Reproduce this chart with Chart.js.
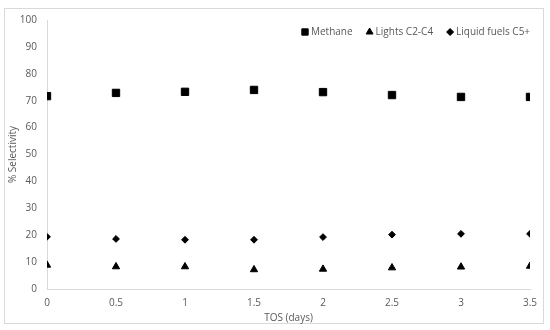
<!DOCTYPE html>
<html lang="en">
<head>
<meta charset="UTF-8">
<title>Selectivity vs TOS</title>
<script src="https://cdn.jsdelivr.net/npm/chart.js"></script>
<style>
  body { margin: 0; background: #fff; }
  #wrap { position: relative; width: 550px; height: 330px; }
</style>
</head>
<body>
<div id="wrap"><canvas id="chart1" width="550" height="330"></canvas></div>
<script>
// data
const tosDays = [0, 0.5, 1, 1.5, 2, 2.5, 3, 3.5];
const methane = [71.7, 72.9, 73.3, 74.0, 73.2, 72.1, 71.4, 71.4];
const lights = [8.9, 8.3, 8.3, 7.2, 7.4, 7.9, 8.2, 8.5];
const liquidFuels = [19.4, 18.6, 18.3, 18.3, 19.3, 20.2, 20.5, 20.5];
const seriesNames = ['Methane', 'Lights C2-C4', 'Liquid fuels C5+'];

function pts(vals) {
    return tosDays.map((x, i) => ({ x: x, y: vals[i] }));
}

const gray = '#595959';
const font = 'Open Sans';

// light grey frame round the whole chart
const frame = {
    id: 'frame',
    beforeDraw(chart) {
        const c = chart.ctx;
        c.save();
        c.fillStyle = '#fff';
        c.fillRect(0, 0, chart.width, chart.height);
        c.strokeStyle = '#d9d9d9';
        c.lineWidth = 1;
        c.strokeRect(4.5, 8.5, 539, 315);
        c.restore();
    }
};

// legend in the top right corner, inside the plot
const legendTopRight = {
    id: 'legendTopRight',
    afterDraw(chart) {
        const c = chart.ctx;
        const y = 32;
        let x = 302;
        c.save();
        c.font = '10px "' + font + '"';
        c.textBaseline = 'middle';
        chart.data.datasets.forEach(ds => {
            c.fillStyle = '#000';
            c.strokeStyle = '#000';
            const r = ds.pointStyle === 'rect' ? 4.5 : (ds.pointStyle === 'triangle' ? 4 : 3.5);
            Chart.helpers.drawPoint(c, { pointStyle: ds.pointStyle, radius: r, borderWidth: 1, rotation: 0 }, x + 3, y);
            c.fillStyle = gray;
            c.fillText(ds.label, x + 9, y);
            x += 9 + c.measureText(ds.label).width + 14;
        });
        c.restore();
    }
};

new Chart(document.getElementById('chart1'), {
    type: 'scatter',
    data: {
        datasets: [
            { label: seriesNames[0], data: pts(methane), pointStyle: 'rect', pointRadius: 5.2, backgroundColor: '#000', borderColor: '#000' },
            { label: seriesNames[1], data: pts(lights), pointStyle: 'triangle', pointRadius: 4.2, backgroundColor: '#000', borderColor: '#000' },
            { label: seriesNames[2], data: pts(liquidFuels), pointStyle: 'rectRot', pointRadius: 3.4, backgroundColor: '#000', borderColor: '#000' }
        ]
    },
    options: {
        responsive: false,
        animation: false,
        layout: { padding: { left: 4, right: 20, top: 20, bottom: 0 } },
        plugins: {
            legend: { display: false },
            tooltip: { enabled: false }
        },
        scales: {
            x: {
                type: 'linear',
                min: 0,
                max: 3.5,
                afterFit: s => { s.height = 41; },
                ticks: { stepSize: 0.5, color: gray, font: { family: font, size: 10 }, padding: 8, callback: v => String(v) },
                grid: { display: false, drawTicks: false },
                border: { color: '#d9d9d9' },
                title: { display: true, text: 'TOS (days)', color: gray, font: { family: font, size: 10 }, padding: { top: 0, bottom: 6 } }
            },
            y: {
                min: 0,
                max: 100,
                afterFit: s => { s.width = 43; },
                ticks: { stepSize: 10, color: gray, font: { family: font, size: 10 }, padding: 10 },
                grid: { display: false, drawTicks: false },
                border: { color: '#d9d9d9' },
                title: { display: true, text: '% Selectivity', color: gray, font: { family: font, size: 10 }, padding: { top: 3, bottom: 0 } }
            }
        }
    },
    plugins: [frame, legendTopRight]
});
</script>
</body>
</html>
